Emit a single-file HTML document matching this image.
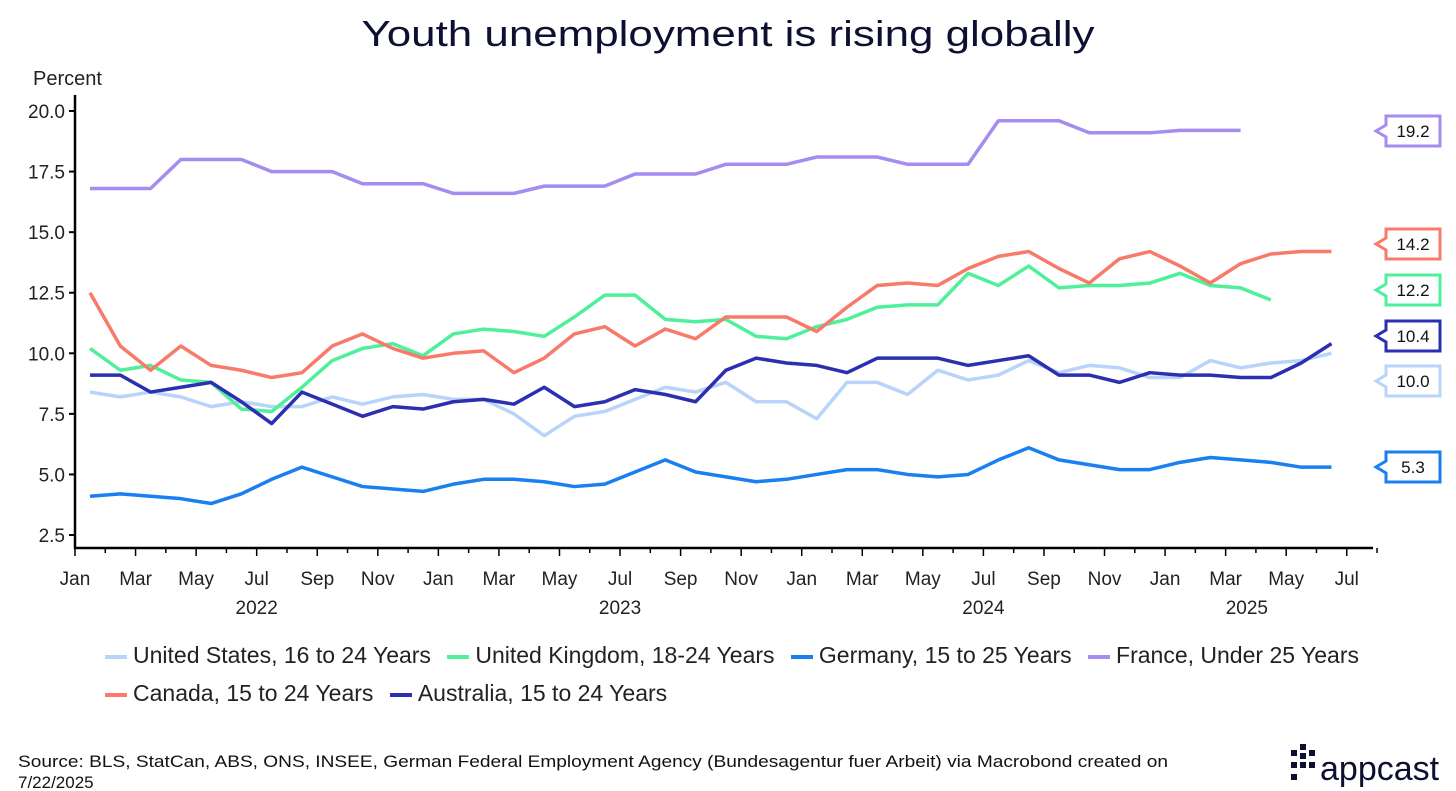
<!DOCTYPE html>
<html><head><meta charset="utf-8"><style>
body{margin:0;background:#fff;font-family:"Liberation Sans",sans-serif;}
#wrap{position:relative;width:1456px;height:791px;overflow:hidden;}
svg text{font-family:"Liberation Sans",sans-serif;}
</style></head><body>
<div id="wrap">
<svg id="chart" width="1456" height="791">
<text x="728" y="46" text-anchor="middle" font-size="36" textLength="733" lengthAdjust="spacingAndGlyphs" fill="#0d1030">Youth unemployment is rising globally</text>
<text x="33" y="85" font-size="20" fill="#222">Percent</text>
<g id="grid"></g><g id="series"></g><g id="labels"></g>
<text x="18" y="767" font-size="17" textLength="1150" lengthAdjust="spacingAndGlyphs" fill="#111">Source: BLS, StatCan, ABS, ONS, INSEE, German Federal Employment Agency (Bundesagentur fuer Arbeit) via Macrobond created on</text>
<text x="18" y="788" font-size="17" fill="#111">7/22/2025</text>
<g>
<rect x="1291" y="750" width="6" height="6" fill="#0d1030"/><rect x="1300" y="744" width="6" height="6" fill="#0d1030"/><rect x="1300" y="753" width="6" height="6" fill="#0d1030"/><rect x="1291" y="762" width="6" height="6" fill="#0d1030"/><rect x="1300" y="762" width="6" height="6" fill="#0d1030"/><rect x="1309" y="750" width="6" height="6" fill="#0d1030"/><rect x="1309" y="762" width="6" height="6" fill="#0d1030"/><rect x="1291" y="774" width="6" height="6" fill="#0d1030"/>
<text x="1320" y="780" font-size="34" fill="#0d1030">appcast</text>
</g>
</svg>
<div style="position:absolute;left:105px;top:636px;font-size:23px;color:#222;line-height:38px;">
<div style="white-space:nowrap">
<span><span style="display:inline-block;width:22px;height:4px;background:#b8d4fa;vertical-align:middle;margin-right:6px"></span>United States, 16 to 24 Years</span>
<span style="margin-left:10px"><span style="display:inline-block;width:22px;height:4px;background:#4ef09a;vertical-align:middle;margin-right:6px"></span>United Kingdom, 18-24 Years</span>
<span style="margin-left:10px"><span style="display:inline-block;width:22px;height:4px;background:#1a7ff0;vertical-align:middle;margin-right:6px"></span>Germany, 15 to 25 Years</span>
<span style="margin-left:10px"><span style="display:inline-block;width:22px;height:4px;background:#a48cf0;vertical-align:middle;margin-right:6px"></span>France, Under 25 Years</span>
</div>
<div style="white-space:nowrap">
<span><span style="display:inline-block;width:22px;height:4px;background:#f87a6a;vertical-align:middle;margin-right:6px"></span>Canada, 15 to 24 Years</span>
<span style="margin-left:10px"><span style="display:inline-block;width:22px;height:4px;background:#2b2fb0;vertical-align:middle;margin-right:6px"></span>Australia, 15 to 24 Years</span>
</div>
</div>
</div>
<script>
const yTicks=[2.5,5.0,7.5,10.0,12.5,15.0,17.5,20.0];
const monthLabels=["Jan","Mar","May","Jul","Sep","Nov"];
const years=["2022","2023","2024","2025"];
const us=[8.4,8.2,8.4,8.2,7.8,8.0,7.8,7.8,8.2,7.9,8.2,8.3,8.1,8.1,7.5,6.6,7.4,7.6,8.1,8.6,8.4,8.8,8.0,8.0,7.3,8.8,8.8,8.3,9.3,8.9,9.1,9.7,9.2,9.5,9.4,9.0,9.0,9.7,9.4,9.6,9.7,10.0];
const uk=[10.2,9.3,9.5,8.9,8.8,7.7,7.6,8.6,9.7,10.2,10.4,9.9,10.8,11.0,10.9,10.7,11.5,12.4,12.4,11.4,11.3,11.4,10.7,10.6,11.1,11.4,11.9,12.0,12.0,13.3,12.8,13.6,12.7,12.8,12.8,12.9,13.3,12.8,12.7,12.2];
const germany=[4.1,4.2,4.1,4.0,3.8,4.2,4.8,5.3,4.9,4.5,4.4,4.3,4.6,4.8,4.8,4.7,4.5,4.6,5.1,5.6,5.1,4.9,4.7,4.8,5.0,5.2,5.2,5.0,4.9,5.0,5.6,6.1,5.6,5.4,5.2,5.2,5.5,5.7,5.6,5.5,5.3,5.3];
const france=[16.8,16.8,16.8,18.0,18.0,18.0,17.5,17.5,17.5,17.0,17.0,17.0,16.6,16.6,16.6,16.9,16.9,16.9,17.4,17.4,17.4,17.8,17.8,17.8,18.1,18.1,18.1,17.8,17.8,17.8,19.6,19.6,19.6,19.1,19.1,19.1,19.2,19.2,19.2];
const canada=[12.5,10.3,9.3,10.3,9.5,9.3,9.0,9.2,10.3,10.8,10.2,9.8,10.0,10.1,9.2,9.8,10.8,11.1,10.3,11.0,10.6,11.5,11.5,11.5,10.9,11.9,12.8,12.9,12.8,13.5,14.0,14.2,13.5,12.9,13.9,14.2,13.6,12.9,13.7,14.1,14.2,14.2];
const australia=[9.1,9.1,8.4,8.6,8.8,8.0,7.1,8.4,7.9,7.4,7.8,7.7,8.0,8.1,7.9,8.6,7.8,8.0,8.5,8.3,8.0,9.3,9.8,9.6,9.5,9.2,9.8,9.8,9.8,9.5,9.7,9.9,9.1,9.1,8.8,9.2,9.1,9.1,9.0,9.0,9.6,10.4];
const NS="http://www.w3.org/2000/svg";
const X0=75,PM=30.28,Y20=111,PU=24.23;
const xM=i=>X0+PM*i;
const xP=i=>X0+15+PM*i;
const yV=v=>Y20+(20-v)*PU;
function mk(t,a,p){const e=document.createElementNS(NS,t);for(const k in a)e.setAttribute(k,a[k]);p.appendChild(e);return e;}
const grid=document.getElementById('grid');
let e=mk('line',{x1:X0,y1:95,x2:X0,y2:549,stroke:'#000','stroke-width':2.5},grid);


e=mk('line',{x1:X0-1,y1:548,x2:1373,y2:548,stroke:'#000','stroke-width':2.5},grid);


yTicks.forEach(v=>{
 mk('line',{x1:X0-6,y1:yV(v),x2:X0,y2:yV(v),stroke:'#000','stroke-width':2},grid);
 const t=mk('text',{x:X0-10,y:yV(v)+7,'text-anchor':'end','font-size':19,fill:'#222'},grid);
 t.textContent=v.toFixed(1);
 
 
});
for(let i=0;i<=43;i++){
 mk('line',{x1:xM(i),y1:548,x2:xM(i),y2:i%2==0?556:553,stroke:'#000','stroke-width':1.5},grid);
 if(i%2==0 && i<=42){
  const t=mk('text',{x:xM(i),y:585,'text-anchor':'middle','font-size':19,fill:'#222'},grid);
  t.textContent=monthLabels[(i/2)%6];
  
  
 }
}
years.forEach((y,k)=>{
 const cx=k<3?xM(12*k+6):xM(12*k+2.7);
 const t=mk('text',{x:cx,y:614,'text-anchor':'middle','font-size':19,fill:'#222'},grid);
 t.textContent=y;
 
 
});
const series=[[us,'#b8d4fa','us'],[germany,'#1a7ff0','germany'],[uk,'#4ef09a','uk'],[france,'#a48cf0','france'],[canada,'#f87a6a','canada'],[australia,'#2b2fb0','australia']];
const sg=document.getElementById('series');
series.forEach(([d,c,n])=>{
 const p=mk('polyline',{points:d.map((v,i)=>xP(i)+','+yV(v)).join(' '),fill:'none',stroke:c,'stroke-width':3.5,'stroke-linejoin':'round'},sg);
 
 
});
const lg=document.getElementById('labels');
const callouts=[[france,'#a48cf0','france',131],[canada,'#f87a6a','canada',244],[uk,'#4ef09a','uk',290],[australia,'#2b2fb0','australia',336],[us,'#b8d4fa','us',381],[germany,'#1a7ff0','germany',467]];
callouts.forEach(([d,c,n,cy])=>{
 const g=mk('g',{},lg);
 
 
 const L=1386,R=1440,T=cy-15,B=cy+15;
 mk('path',{d:`M${L},${T} H${R} V${B} H${L} V${cy+6} L${L-10},${cy} L${L},${cy-6} Z`,fill:'#fff',stroke:c,'stroke-width':3},g);
 const t=mk('text',{x:(L+R)/2,y:cy+6,'text-anchor':'middle','font-size':17,fill:'#111'},g);
 t.textContent=d[d.length-1].toFixed(1);
});
</script>
</body></html>
